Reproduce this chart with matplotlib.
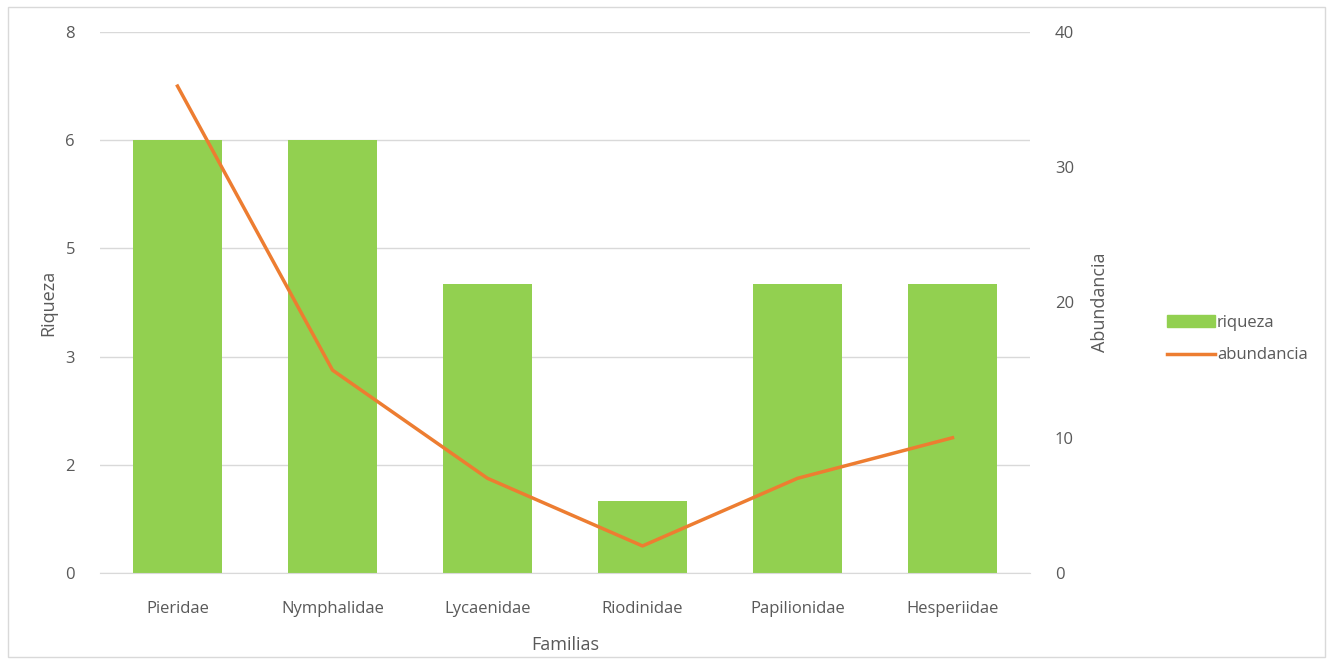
import numpy as np
import matplotlib.pyplot as plt
from matplotlib.patches import Rectangle
from matplotlib.lines import Line2D

familias = ["Pieridae", "Nymphalidae", "Lycaenidae", "Riodinidae",
            "Papilionidae", "Hesperiidae"]
riqueza = [6, 6, 4, 1, 4, 4]
abundancia = [36, 15, 7, 2, 7, 10]

ticks_izq = [0, 1.5, 3, 4.5, 6, 7.5]
ticks_der = [0, 10, 20, 30, 40]

verde = "#92D050"
naranja = "#ED7D31"
gris = "#595959"

plt.rcParams['font.family'] = ['Open Sans', 'DejaVu Sans']

fig = plt.figure(figsize=(13.31, 6.65), dpi=100)
ax = fig.add_axes([100 / 1331, 1 - 573 / 665, 930 / 1331, 541 / 665])
ax2 = ax.twinx()

x = np.arange(len(familias))
ax.bar(x, riqueza, width=0.58, color=verde, zorder=2)
ax2.plot(x, abundancia, color=naranja, lw=2.5, zorder=3)

ax.set_xlim(-0.5, len(familias) - 0.5)
ax.set_ylim(0, 7.5)
ax2.set_ylim(0, 40)

# etiquetas redondeadas como en Excel (0 decimales)
etiquetas = [str(int(np.floor(t + 0.5))) for t in ticks_izq]
ax.set_yticks(ticks_izq)
ax.set_yticklabels(etiquetas)
ax2.set_yticks(ticks_der)

ax.set_xticks(x)
ax.set_xticklabels(familias)

ax.yaxis.grid(True, color="#D9D9D9", lw=1, zorder=0)
ax.set_axisbelow(True)

for a in (ax, ax2):
    for s in ("top", "left", "right"):
        a.spines[s].set_visible(False)
    a.spines["bottom"].set_color("#D9D9D9")
    a.tick_params(length=0, labelsize=12, labelcolor=gris, pad=20)
ax2.spines["bottom"].set_visible(False)
ax.tick_params(axis="y", pad=18)
ax2.tick_params(axis="y", pad=18)

ax.set_xlabel("Familias", fontsize=13, color=gris, labelpad=14)
ax.set_ylabel("Riqueza", fontsize=13, color=gris, labelpad=6)
ax2.set_ylabel("Abundancia", fontsize=13, color=gris, labelpad=12)

handles = [Rectangle((0, 0), 1, 1, color=verde),
           Line2D([], [], color=naranja, lw=2.5)]
fig.legend(handles, ["riqueza", "abundancia"], loc="center left",
           bbox_to_anchor=(1152 / 1331, 1 - 339 / 665), frameon=False,
           fontsize=12, labelcolor=gris, handlelength=2.9, handletextpad=0.1,
           labelspacing=1.0)

fig.patches.append(Rectangle((8 / 1331, 8 / 665), 1317 / 1331, 650 / 665,
                             transform=fig.transFigure, fill=False,
                             edgecolor="#D9D9D9", lw=1))

fig.savefig("out.png", dpi=100)
